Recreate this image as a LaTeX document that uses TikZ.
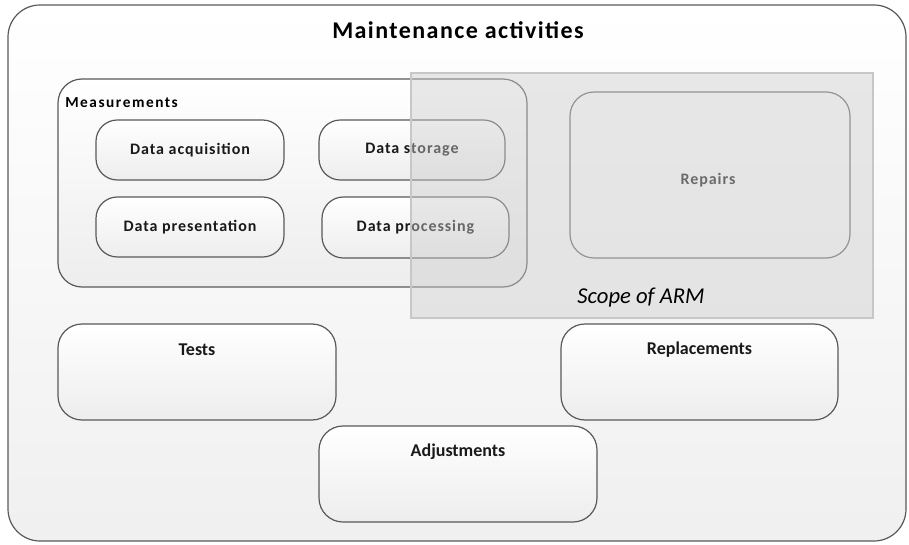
\documentclass[tikz,border=0pt]{standalone}
\usepackage{fontspec}
\setmainfont{Carlito}
\newfontfamily\spaced[LetterSpace=6]{Carlito}
\newfontfamily\wide[LetterSpace=10]{Carlito}
\usetikzlibrary{calc}
\tikzset{
  px/.style={x=0.75pt,y=-0.75pt},
  rbox/.style={draw=black!65, line width=0.9pt, rounded corners=#1, top color=white, bottom color=black!7, inner sep=0pt},
  rbox/.default=20pt,
  btxt/.style={font=\spaced\bfseries\fontsize{12}{14}\selectfont, text=black!90},
  ltxt/.style={font=\bfseries\fontsize{13.5}{16}\selectfont, text=black!90},
}
\begin{document}
\begin{tikzpicture}[px]
\useasboundingbox (0,0) rectangle (909,545);
% outer
\path[rbox=24pt, top color=white, bottom color=black!6, draw=black!65] (8,5) rectangle (906,541);
\node[font=\spaced\bfseries\fontsize{18}{22}\selectfont] (title) at (458,30) {Maintenance activities};
% measurements group
\path[rbox=18pt] (58,79) rectangle (527,287);
\node[font=\wide\bfseries\fontsize{11.5}{13}\selectfont, anchor=west, inner sep=0pt] (meas) at (65,103) {Measurements};
\node[rbox=16pt, minimum width=188*0.75pt, minimum height=60*0.75pt, btxt] (acq) at (190,150) {\raisebox{2pt}{Data acquisition}};
\node[rbox=16pt, minimum width=186*0.75pt, minimum height=60*0.75pt, btxt] (sto) at (412,150) {\raisebox{2pt}{Data storage}};
\node[rbox=16pt, minimum width=188*0.75pt, minimum height=60*0.75pt, btxt] (pre) at (190,227) {\raisebox{2pt}{Data presentation}};
\node[rbox=16pt, minimum width=187*0.75pt, minimum height=61*0.75pt, btxt] (proc) at (415.5,227.5) {\raisebox{2pt}{Data processing}};
% scope of ARM
\path[draw=black!22, line width=0.8pt, fill=black!20, fill opacity=0.44] (411,73) rectangle (873,318);
\node[draw=black!42, line width=0.9pt, rounded corners=18pt, minimum width=280*0.75pt, minimum height=166*0.75pt, inner sep=0pt] (rep) at (710,175) {};
\node[btxt, text=black!58] (reptxt) at (708,180) {Repairs};
\node[font=\itshape\fontsize{17}{20}\selectfont] (scope) at (641,298) {Scope of ARM};
% lower boxes
\node[rbox=18pt, minimum width=278*0.75pt, minimum height=96*0.75pt] (tests) at (197,372) {};
\node[ltxt] at ($(tests.north)+(0,26)$) {Tests};
\node[rbox=18pt, minimum width=277*0.75pt, minimum height=96*0.75pt] (repl) at (699.5,372) {};
\node[ltxt] at ($(repl.north)+(0,26)$) {Replacements};
\node[rbox=18pt, minimum width=278*0.75pt, minimum height=96*0.75pt] (adj) at (458,474) {};
\node[ltxt] at ($(adj.north)+(0,26)$) {Adjustments};
\end{tikzpicture}
\end{document}
